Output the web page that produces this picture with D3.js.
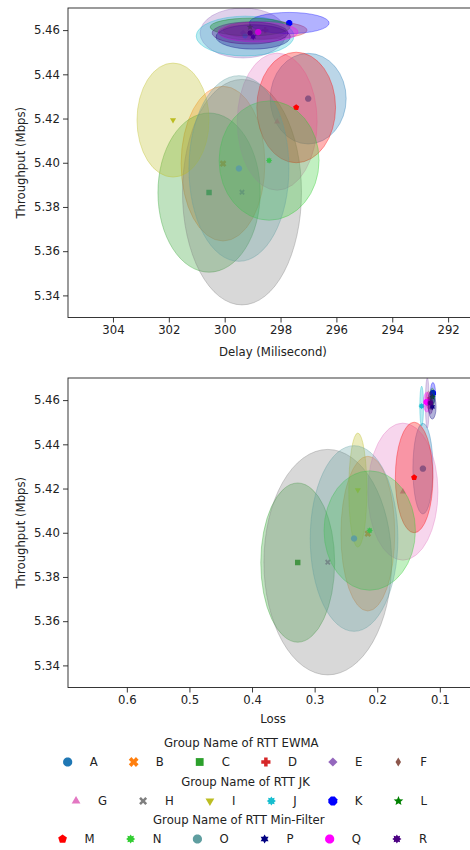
<!DOCTYPE html>
<html>
<head>
<meta charset="utf-8">
<script src="https://cdn.jsdelivr.net/npm/d3@7"></script>
<style>
  body { margin: 0; background: #fff; }
  text { font-family: "DejaVu Sans", sans-serif; fill: #222; }
</style>
</head>
<body>
<div id="chart"></div>
<script>
// group names (three legend rows of six)
var groups = ["A", "B", "C", "D", "E", "F", "G", "H", "I", "J", "K", "L", "M", "N", "O", "P", "Q", "R"];
var legendTitles = ["Group Name of RTT EWMA", "Group Name of RTT JK", "Group Name of RTT Min-Filter"];

// means
var delay = [297.01, 300.06, 300.56, 298.55, 299.34, 299.02, 298.12, 299.38, 301.85,
             299.27, 297.69, 299.09, 297.44, 298.41, 299.49, 298.98, 298.80, 299.09];
var loss = [0.127, 0.215, 0.327, 0.118, 0.120, 0.114, 0.159, 0.279, 0.231,
            0.129, 0.111, 0.112, 0.141, 0.212, 0.237, 0.112, 0.121, 0.115];
var throughput = [5.4290, 5.3996, 5.3865, 5.4600, 5.4587, 5.4590, 5.4186, 5.3867, 5.4193,
                  5.4573, 5.4632, 5.4614, 5.4250, 5.4010, 5.3974, 5.4569, 5.4591, 5.4587];

// spread (ellipse half axes)
var delaySpread = [1.36, 1.50, 1.83, 1.50, 1.54, 1.20, 1.43, 2.13, 1.29,
                   1.75, 1.43, 1.43, 1.41, 1.79, 1.79, 1.33, 1.43, 1.36];
var lossSpread = [0.016, 0.043, 0.059, 0.004, 0.003, 0.003, 0.056, 0.102, 0.0144,
                  0.003, 0.004, 0.004, 0.030, 0.073, 0.070, 0.006, 0.005, 0.004];
var throughputSpread = [0.0205, 0.035, 0.036, 0.004, 0.0113, 0.0035, 0.031, 0.051, 0.0258,
                        0.009, 0.0048, 0.004, 0.025, 0.027, 0.042, 0.0055, 0.0045, 0.005];

// ticks
var delayTicks = [304, 302, 300, 298, 296, 294, 292];
var lossTicks = [0.6, 0.5, 0.4, 0.3, 0.2, 0.1];
var throughputTicks = [5.34, 5.36, 5.38, 5.40, 5.42, 5.44, 5.46];

var colors = ["#1f77b4", "#ff7f0e", "#2ca02c", "#d62728", "#9467bd", "#8c564b", "#e377c2", "#7f7f7f", "#bcbd22",
              "#17becf", "#0000ff", "#008000", "#ff0000", "#32cd32", "#5f9ea0", "#000080", "#ff00ff", "#4b0082"];
var shapes = ["circle", "X", "square", "plus", "diamond", "thin_diamond", "tri_up", "x", "tri_down",
              "star8", "octagon", "star5", "pentagon", "star8", "circle", "star6", "circle", "star8"];

var W = 470, H = 850;

// polygon helpers
function ring(n, r1, r2, rot) {
  var k = r2 == null ? n : n * 2, pts = [];
  for (var i = 0; i < k; i++) {
    var r = (r2 == null || i % 2 === 0) ? r1 : r2;
    var a = (rot || 0) + i * 2 * Math.PI / k - Math.PI / 2;
    pts.push([r * Math.cos(a), r * Math.sin(a)]);
  }
  return pts;
}
function crossPts(s, w) {
  return [[-w,-s],[w,-s],[w,-w],[s,-w],[s,w],[w,w],[w,s],[-w,s],[-w,w],[-s,w],[-s,-w],[-w,-w]];
}
function rotate(pts, a) {
  return pts.map(function(p) {
    return [p[0] * Math.cos(a) - p[1] * Math.sin(a), p[0] * Math.sin(a) + p[1] * Math.cos(a)];
  });
}
function markerPath(shape, s) {
  var pts;
  switch (shape) {
    case "circle": pts = ring(24, s); break;
    case "octagon": pts = ring(8, s * 1.05, null, Math.PI / 8); break;
    case "X": pts = rotate(crossPts(s * 1.1, s * 0.4), Math.PI / 4); break;
    case "x": pts = rotate(crossPts(s * 0.95, s * 0.28), Math.PI / 4); break;
    case "plus": pts = crossPts(s, s * 0.38); break;
    case "square": pts = [[-s*0.85,-s*0.85],[s*0.85,-s*0.85],[s*0.85,s*0.85],[-s*0.85,s*0.85]]; break;
    case "diamond": pts = [[0,-s],[s,0],[0,s],[-s,0]]; break;
    case "thin_diamond": pts = [[0,-s],[s*0.6,0],[0,s],[-s*0.6,0]]; break;
    case "tri_up": pts = ring(3, s * 1.1); break;
    case "tri_down": pts = ring(3, s * 1.1, null, Math.PI); break;
    case "pentagon": pts = ring(5, s); break;
    case "star5": pts = ring(5, s * 1.1, s * 0.5); break;
    case "star6": pts = ring(6, s, s * 0.58); break;
    case "star8": pts = ring(8, s, s * 0.65); break;
    default: pts = ring(24, s);
  }
  return "M" + pts.map(function(p) { return p[0].toFixed(2) + "," + p[1].toFixed(2); }).join("L") + "Z";
}

var svg = d3.select("#chart").append("svg")
    .attr("width", W)
    .attr("height", H);
svg.append("rect").attr("width", W).attr("height", H).attr("fill", "#fff");

function panel(id, top, xDomain, xTicks, xFormat, xVals, xSpread, xLabel, labelGap) {
  var left = 68, right = 478, bottom = top + 309.5;
  var x = d3.scaleLinear().domain(xDomain).range([left, right]);
  var y = d3.scaleLinear().domain([5.33, 5.47]).range([bottom, top]);
  var g = svg.append("g");

  svg.append("clipPath").attr("id", id)
    .append("rect")
    .attr("x", left).attr("y", top)
    .attr("width", right - left).attr("height", bottom - top);

  var plot = g.append("g").attr("clip-path", "url(#" + id + ")");
  groups.forEach(function(name, i) {
    var cx = x(xVals[i]), cy = y(throughput[i]);
    plot.append("path")
      .attr("d", markerPath(shapes[i], 3.2))
      .attr("transform", "translate(" + cx + "," + cy + ")")
      .attr("fill", colors[i]);
    plot.append("ellipse")
      .attr("cx", cx)
      .attr("cy", cy)
      .attr("rx", Math.abs(x(xVals[i] + xSpread[i]) - cx))
      .attr("ry", Math.abs(y(throughput[i] + throughputSpread[i]) - cy))
      .attr("fill", colors[i])
      .attr("fill-opacity", 0.3)
      .attr("stroke", colors[i])
      .attr("stroke-opacity", 0.35)
      .attr("stroke-width", 1);
  });

  var xa = g.append("g")
    .attr("transform", "translate(0," + bottom + ")")
    .call(d3.axisBottom(x).tickValues(xTicks).tickFormat(xFormat).tickSize(5).tickPadding(3).tickSizeOuter(0));
  var ya = g.append("g")
    .attr("transform", "translate(" + left + ",0)")
    .call(d3.axisLeft(y).tickValues(throughputTicks).tickFormat(d3.format(".2f")).tickSize(5).tickPadding(3).tickSizeOuter(0));
  [xa, ya].forEach(function(a) {
    a.select(".domain").remove();
    a.selectAll("text").attr("font-size", "11.7px").attr("font-family", "DejaVu Sans").attr("fill", "#222");
    a.selectAll("line").attr("stroke", "#222").attr("stroke-width", 0.9);
  });

  g.append("rect")
    .attr("x", left).attr("y", top)
    .attr("width", right - left).attr("height", bottom - top)
    .attr("fill", "none").attr("stroke", "#222").attr("stroke-width", 0.9);

  g.append("text")
    .attr("x", 273).attr("y", bottom + labelGap)
    .attr("text-anchor", "middle").attr("font-size", "11.7px")
    .text(xLabel);
  g.append("text")
    .attr("transform", "translate(25," + (top + bottom) / 2 + ") rotate(-90)")
    .attr("text-anchor", "middle").attr("font-size", "11.7px")
    .text("Throughput (Mbps)");
}

panel("clipTop", 8, [305.61, 290.93], delayTicks, d3.format("d"), delay, delaySpread, "Delay (Milisecond)", 38);
panel("clipBottom", 378, [0.694, 0.039], lossTicks, d3.format(".1f"), loss, lossSpread, "Loss", 35.5);

// legends: three rows, right aligned at x=427
var measure = svg.append("text").attr("font-size", "11.7px").attr("visibility", "hidden");
function textW(s) { measure.text(s); return measure.node().getComputedTextLength(); }

var legendRowY = [762, 801, 839];
var legendRight = 427;
legendTitles.forEach(function(title, r) {
  var items = groups.slice(r * 6, r * 6 + 6);
  var widths = items.map(textW);
  var total = d3.sum(widths) + items.length * (24 + 10) + (items.length - 1) * 24;
  var start = legendRight - total;
  var lg = svg.append("g");
  var xpos = start;
  items.forEach(function(name, j) {
    var i = r * 6 + j;
    lg.append("path")
      .attr("d", markerPath(shapes[i], 4.6))
      .attr("transform", "translate(" + (xpos + 12) + "," + legendRowY[r] + ")")
      .attr("fill", colors[i]);
    lg.append("text")
      .attr("x", xpos + 34)
      .attr("y", legendRowY[r] + 4.3)
      .attr("font-size", "11.7px")
      .text(name);
    xpos += 24 + 10 + widths[j] + 24;
  });
  lg.append("text")
    .attr("x", start + total / 2)
    .attr("y", legendRowY[r] - 19 + 4.3)
    .attr("text-anchor", "middle")
    .attr("font-size", "11.7px")
    .text(title);
});
measure.remove();
</script>
</body>
</html>
